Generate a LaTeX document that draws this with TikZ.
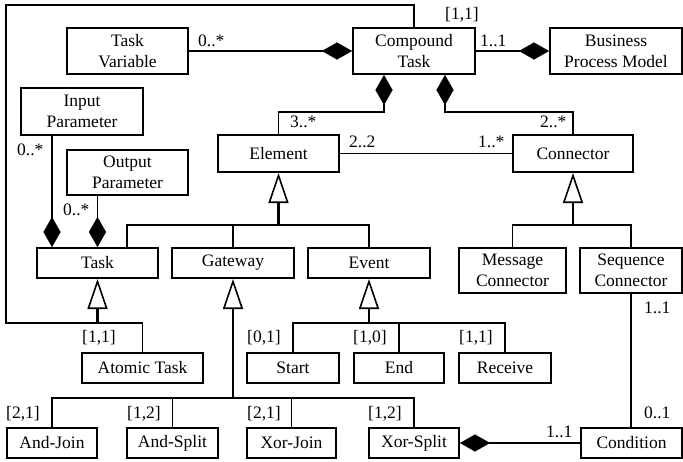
\documentclass[tikz,border=0pt]{standalone}
\usepackage{fontspec}
\setmainfont{Liberation Serif}
\usetikzlibrary{arrows.meta,calc}
\begin{document}
\begin{tikzpicture}[x=1pt,y=-1pt,
  font=\fontsize{17.5}{21}\selectfont,
  box/.style={draw,line width=2pt,inner sep=0pt,align=center},
  lbl/.style={anchor=west,inner sep=0pt},
  assoc/.style={line width=1.5pt},
  comp/.style={line width=1.5pt,-{Diamond[length=30pt,width=17pt,fill=black,line width=0.1pt]}},
  gen/.style={line width=2.3pt,-{Triangle[open,length=30pt,width=20pt,fill=white,line width=1.6pt]}}]
\useasboundingbox (0,0) rectangle (683,461);
% boxes
\node[box,minimum width=121pt,minimum height=46pt] (tv) at (127.5,51) {Task\\Variable};
\node[box,minimum width=122pt,minimum height=46pt] (ct) at (414,51) {Compound\\Task};
\node[box,minimum width=132pt,minimum height=46pt] (bpm) at (616,51) {Business\\Process Model};
\node[box,minimum width=122pt,minimum height=47pt] (ip) at (82,111.5) {Input\\Parameter};
\node[box,minimum width=121pt,minimum height=45pt] (op) at (127.5,172.5) {Output\\Parameter};
\node[box,minimum width=121pt,minimum height=37pt] (el) at (278.5,153.5) {Element};
\node[box,minimum width=120pt,minimum height=37pt] (co) at (573,153.5) {Connector};
\node[box,minimum width=121pt,minimum height=30pt] (task) at (97.5,263) {Task};
\node[box,minimum width=122pt,minimum height=30pt] (gw) at (233,263) {Gateway};
\node[box,minimum width=122pt,minimum height=30pt] (ev) at (369,263) {Event};
\node[box,minimum width=107pt,minimum height=45pt] (mc) at (512.5,270.5) {Message\\Connector};
\node[box,minimum width=102pt,minimum height=45pt] (sc) at (631,270.5) {Sequence\\Connector};
\node[box,minimum width=121pt,minimum height=30pt] (at) at (142.5,368) {Atomic Task};
\node[box,minimum width=92pt,minimum height=30pt] (st) at (293,368) {Start};
\node[box,minimum width=90pt,minimum height=30pt] (en) at (399,368) {End};
\node[box,minimum width=92pt,minimum height=30pt] (re) at (505,368) {Receive};
\node[box,minimum width=90pt,minimum height=30pt] (aj) at (52,443) {And-Join};
\node[box,minimum width=91pt,minimum height=30pt] (as) at (172.5,443) {And-Split};
\node[box,minimum width=89pt,minimum height=30pt] (xj) at (291.5,443) {Xor-Join};
\node[box,minimum width=90pt,minimum height=30pt] (xs) at (414,443) {Xor-Split};
\node[box,minimum width=101pt,minimum height=30pt] (cond) at (631.5,443) {Condition};
% junction coordinates
\coordinate (lt) at (6,5);
\coordinate (lb) at (6,323);
\coordinate (elj) at (278.5,225);
\coordinate (coj) at (573,225);
\coordinate (gwj) at (233,398);
\coordinate (evj) at (369,323);
\coordinate (ctl) at (384,112);
\coordinate (ctr) at (445,112);
% compositions
\draw[comp] (tv.east) -- (ct.west);
\draw[comp] (ct.east) -- (bpm.west);
\draw[comp] (el.north) |- (ctl) -- (ctl |- ct.south);
\draw[comp] (co.north) |- (ctr) -- (ctr |- ct.south);
\draw[comp] ([xshift=-30pt]ip.south) -- ([xshift=-45.5pt]task.north);
\draw[comp] (op.south -| task.north) -- (task.north);
\draw[comp] (cond.west) -- (xs.east);
% associations
\draw[assoc] (el.east) -- (co.west);
\draw[assoc] (sc.south) -- (sc.south |- cond.north);
\draw[assoc] (ct.north) |- (lt) -- (lb) -| (at.north);
% generalizations
\draw[gen] (task.south |- lb) -- (task.south);
\draw[gen] (elj) -- (el.south);
\draw[assoc] ([xshift=29.5pt]task.north) |- (ev.north |- elj) -- (ev.north);
\draw[assoc] (gw.north) -- (gw.north |- elj);
\draw[gen] (coj) -- (co.south);
\draw[assoc] (mc.north) |- (sc.north |- coj) -- (sc.north);
\draw[gen] (gwj) -- (gw.south);
\draw[assoc] (aj.north) |- (xs.north |- gwj) -- (xs.north);
\draw[assoc] (as.north) -- (as.north |- gwj);
\draw[assoc] (xj.north) -- (xj.north |- gwj);
\draw[gen] (evj) -- (ev.south);
\draw[assoc] (st.north) |- (re.north |- evj) -- (re.north);
\draw[assoc] (en.north) -- (en.north |- evj);
% labels
\node[lbl] (l1) at (198,41) {0..*};
\node[lbl] (l2) at (480,41) {1..1};
\node[lbl] (l3) at (445,15) {[1,1]};
\node[lbl] (l4) at (290,122) {3..*};
\node[lbl] (l5) at (540,122) {2..*};
\node[lbl] (l6) at (349,142) {2..2};
\node[lbl] (l7) at (478,142) {1..*};
\node[lbl] (l8) at (17,150) {0..*};
\node[lbl] (l9) at (63,210) {0..*};
\node[lbl] (l10) at (82,338) {[1,1]};
\node[lbl] (l11) at (247,338) {[0,1]};
\node[lbl] (l12) at (353,338) {[1,0]};
\node[lbl] (l13) at (459,338) {[1,1]};
\node[lbl] (l14) at (6,414) {[2,1]};
\node[lbl] (l15) at (127,414) {[1,2]};
\node[lbl] (l16) at (247,414) {[2,1]};
\node[lbl] (l17) at (368,414) {[1,2]};
\node[lbl] (l18) at (644,308) {1..1};
\node[lbl] (l19) at (644,413) {0..1};
\node[lbl] (l20) at (546,432) {1..1};
\end{tikzpicture}
\end{document}
